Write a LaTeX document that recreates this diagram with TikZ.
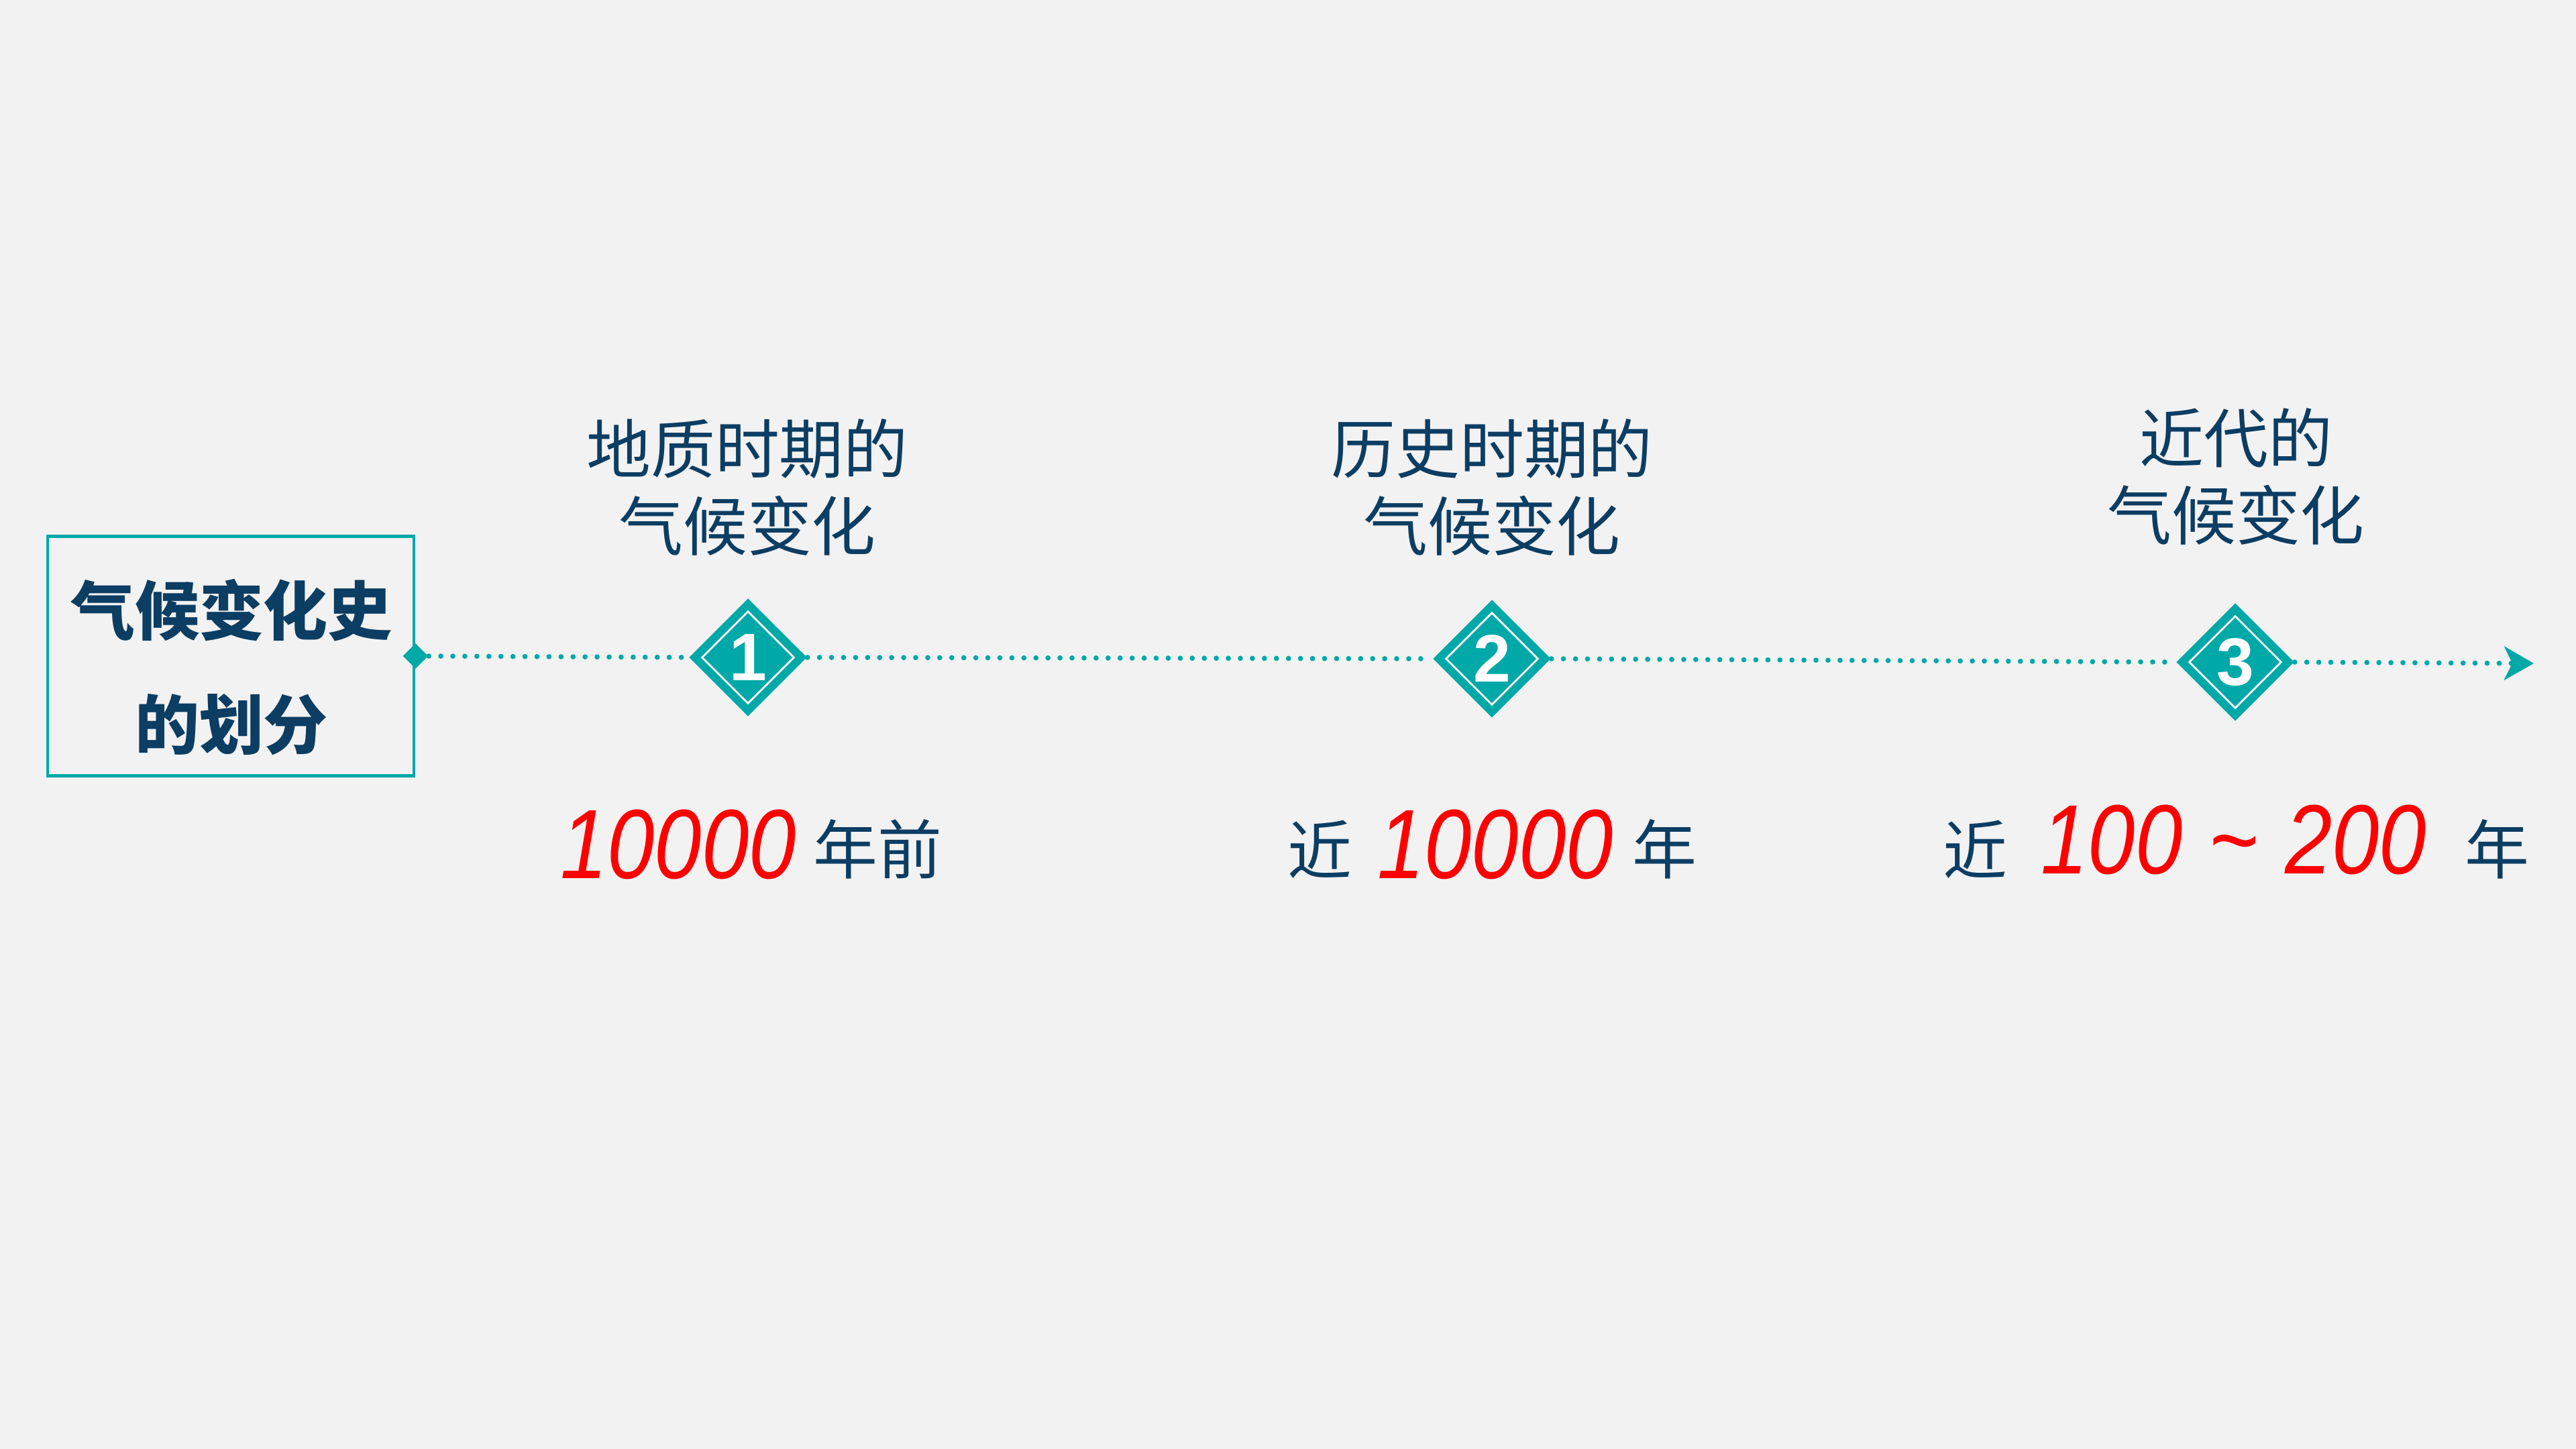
\documentclass[tikz,border=0pt]{standalone}
\usepackage{fontspec}
\usepackage{tikz}
\usetikzlibrary{shapes.geometric,arrows.meta}
\newfontfamily\cjk{Noto Sans CJK SC}
\IfFontExistsTF{Noto Sans CJK SC Black}
   {\newfontfamily\cjkgrueso{Noto Sans CJK SC Black}}
   {\newfontfamily\cjkgrueso{Noto Sans CJK SC Bold}}
\newfontfamily\numfont[FakeStretch=0.86]{Liberation Sans}
\newfontfamily\digfont{Liberation Sans}
\definecolor{fondo}{RGB}{242,242,242}
\definecolor{turquesa}{RGB}{0,168,168}
\definecolor{azul}{RGB}{12,61,99}
\definecolor{rojo}{RGB}{255,0,0}

\begin{document}
\begin{tikzpicture}[
   caja/.style={draw=turquesa,line width=1.4pt,minimum width=5.46cm,minimum height=3.57cm,inner sep=0},
   titulo/.style={text=azul,align=center,font=\cjkgrueso\fontsize{27.3pt}{48.6pt}\selectfont},
   rombo/.style={diamond,fill=turquesa,minimum width=1.76cm,minimum height=1.76cm,inner sep=0,text=white,font=\digfont\bfseries\fontsize{28.5pt}{30pt}\selectfont},
   rombin/.style={diamond,draw=white,line width=0.8pt,minimum width=1.38cm,minimum height=1.38cm,inner sep=0},
   etapa/.style={text=azul,align=center,font=\cjk\fontsize{27.3pt}{32.7pt}\selectfont},
   cifra/.style={text=rojo,font=\numfont\itshape\fontsize{41.8pt}{44pt}\selectfont},
   palabra/.style={text=azul,font=\cjk\fontsize{27.3pt}{30pt}\selectfont},
   puntos/.style={turquesa,line width=2.2pt,line cap=round,dash pattern=on 0pt off 5.1pt}
]
   %fondo
   \fill[fondo] (0,0) rectangle (38.4,21.6);
   \useasboundingbox (0,0) rectangle (38.4,21.6);
   %caja
   \node[caja] (caja) at (3.44,11.82) {};
   \node[titulo] (titulo) at (3.45,11.655) {气候变化史\\的划分};
   \node[diamond,fill=turquesa,minimum width=0.38cm,minimum height=0.38cm,inner sep=0] (nudo) at (caja.east) {};
   %rombos
   \node[rombo] (r1) at (11.15,11.80) {1};
   \node[rombin] (r1i) at (r1) {};
   \node[rombo] (r2) at (22.24,11.78) {2};
   \node[rombin] (r2i) at (r2) {};
   \node[rombo] (r3) at (33.32,11.73) {3};
   \node[rombin] (r3i) at (r3) {};
   \coordinate (fin) at (37.77,11.71);
   %linea
   \draw[puntos] (nudo.east) -- (r1.west);
   \draw[puntos] (r1.east) -- (r2.west);
   \draw[puntos] (r2.east) -- (r3.west);
   \draw[puntos,-{Stealth[length=0.44cm,width=0.5cm,inset=0.12cm]}] (r3.east) -- (fin);
   %etapas
   \node[etapa] (e1) at (11.14,14.335) {地质时期的\\气候变化};
   \node[etapa] (e2) at (22.24,14.335) {历史时期的\\气候变化};
   \node[etapa] (e3) at (33.33,14.495) {近代的\\气候变化};
   %fechas
   \node[cifra] (n1) at (10.11,9.01) {10000};
   \node[palabra] (a1) at (13.08,8.94) {年前};
   \node[palabra] (c2) at (19.67,8.94) {近};
   \node[cifra] (n2) at (22.29,9.01) {10000};
   \node[palabra] (a2) at (24.81,8.94) {年};
   \node[palabra] (c3) at (29.44,8.94) {近};
   \node[cifra] (n3) at (33.30,9.08) {100\hspace{0.27em}\textasciitilde\hspace{0.27em}200};
   \node[palabra] (a3) at (37.22,8.94) {年};
\end{tikzpicture}
\end{document}
